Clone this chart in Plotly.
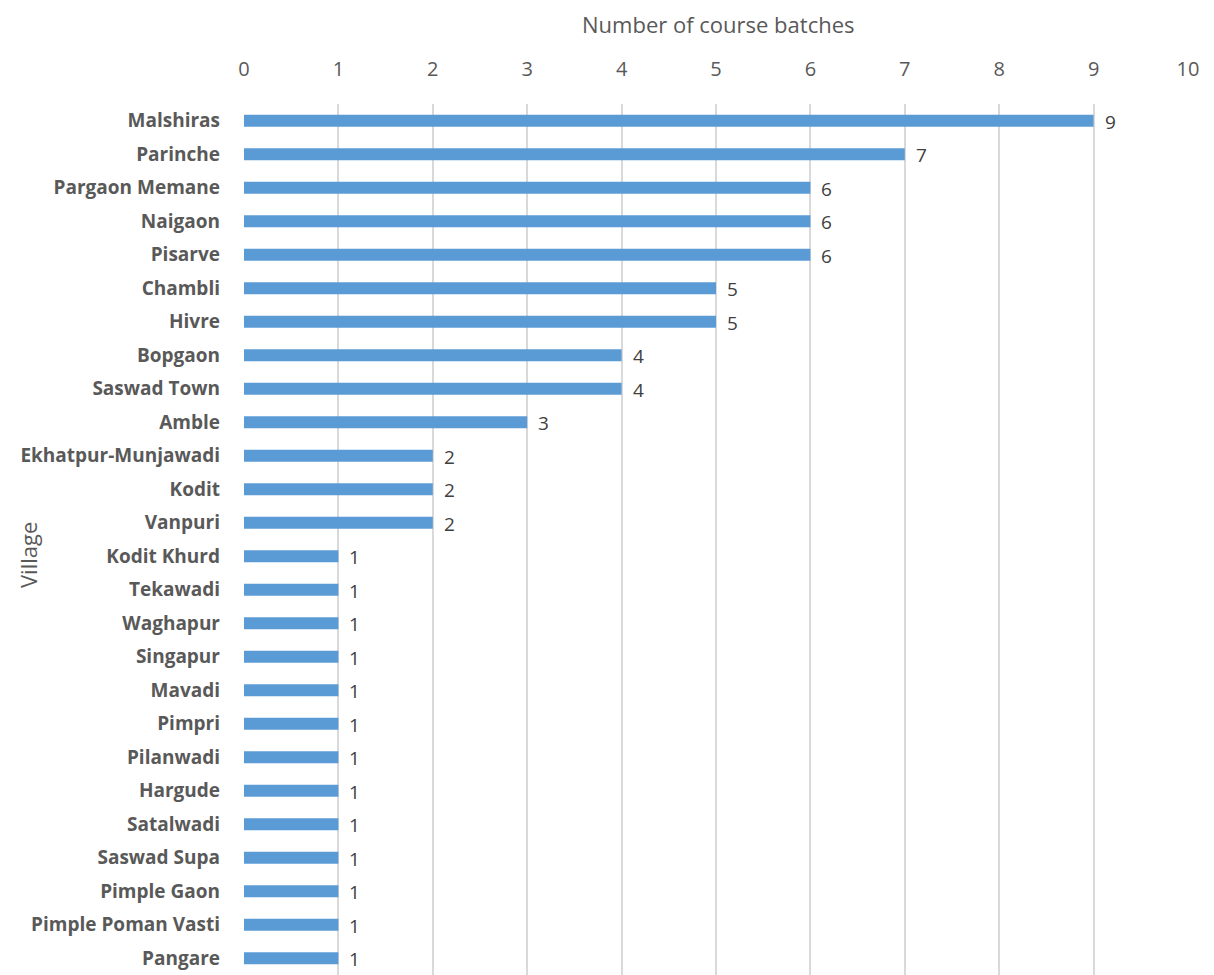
import plotly.graph_objects as go

villages = ["Malshiras", "Parinche", "Pargaon Memane", "Naigaon", "Pisarve", "Chambli", "Hivre",
            "Bopgaon", "Saswad Town", "Amble", "Ekhatpur-Munjawadi", "Kodit", "Vanpuri",
            "Kodit Khurd", "Tekawadi", "Waghapur", "Singapur", "Mavadi", "Pimpri", "Pilanwadi",
            "Hargude", "Satalwadi", "Saswad Supa", "Pimple Gaon", "Pimple Poman Vasti", "Pangare"]
batches = [9, 7, 6, 6, 6, 5, 5, 4, 4, 3, 2, 2, 2, 1, 1, 1, 1, 1, 1, 1, 1, 1, 1, 1, 1, 1]
x_ticks = [0, 1, 2, 3, 4, 5, 6, 7, 8, 9, 10]

W, H = 1206, 967
L, R, T, B = 236, 26, 96, 0
pw, ph = W - L - R, H - T - B

fig = go.Figure(go.Bar(
    x=batches, y=villages, orientation="h",
    marker=dict(color="#5b9bd5", line=dict(width=0)),
    width=0.36,
))

annotations = [
    dict(x=v, y=name, xref="x", yref="y", text=str(v), showarrow=False,
         xanchor="left", yanchor="middle", xshift=9, yshift=-1,
         font=dict(family="Open Sans", size=19, color="#404040"))
    for name, v in zip(villages, batches)
]
annotations += [
    dict(text="Number of course batches", x=(710 - L) / pw, y=(H - B - 16) / ph,
         xref="paper", yref="paper", showarrow=False, xanchor="center", yanchor="middle",
         font=dict(family="Open Sans", size=22, color="#595959")),
    dict(text="Village", x=(20 - L) / pw, y=(H - B - 547) / ph, xref="paper", yref="paper",
         showarrow=False, textangle=-90, xanchor="center", yanchor="middle",
         font=dict(family="Open Sans", size=22, color="#595959")),
]

fig.update_layout(
    width=W, height=H,
    margin=dict(l=L, r=R, t=T, b=B),
    plot_bgcolor="white", paper_bgcolor="white",
    showlegend=False,
    xaxis=dict(side="top", range=[0, 10], tickvals=x_ticks, showgrid=True,
               gridcolor="#d9d9d9", gridwidth=1.5, zeroline=False, showline=False,
               tickfont=dict(family="Open Sans", size=20, color="#595959"), ticklen=0,
               ticklabelstandoff=23),
    yaxis=dict(autorange="reversed", showgrid=False, zeroline=False, showline=False,
               tickfont=dict(family="Open Sans", size=19, color="#595959", weight="bold"),
               ticklen=0, ticklabelstandoff=23),
    annotations=annotations,
)

fig.write_html("out.html")
